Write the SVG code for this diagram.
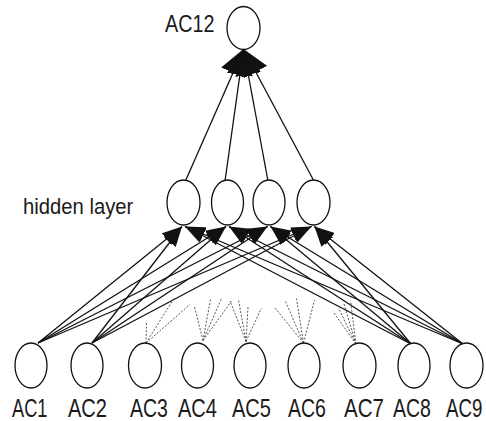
<svg xmlns="http://www.w3.org/2000/svg" width="486" height="421" viewBox="0 0 486 421">
  <style>
    .node { fill: #fff; stroke: #111; stroke-width: 1.3; }
    .lbl { font-family: "Liberation Sans", Arial, Helvetica, sans-serif; fill: #1a1a1a; }
    .in-lbl { font-size: 26px; }
    .edge { stroke: #111; stroke-width: 1.3; fill: none; }
    .hint { stroke: #444; stroke-width: 0.9; stroke-dasharray: 2 1.6; fill: none; }
  </style>
  <defs>
    <marker id="tri" viewBox="0 0 20 15" refX="20" refY="7.5" markerWidth="20" markerHeight="15" markerUnits="userSpaceOnUse" orient="auto">
      <path d="M0,0 L20,7.5 L0,15 z" fill="#111"/>
    </marker>
    <marker id="tri-lg" viewBox="0 0 26 26" refX="26" refY="13" markerWidth="26" markerHeight="26" markerUnits="userSpaceOnUse" orient="auto">
      <path d="M0,0 L26,13 L0,26 z" fill="#111"/>
    </marker>
  </defs>

  <!-- connectors -->
  <g id="connectors">
    <!-- hidden layer to output -->
    <line class="edge" x1="185" y1="182" x2="243.5" y2="49" marker-end="url(#tri-lg)"/>
    <line class="edge" x1="225" y1="181" x2="243.5" y2="49" marker-end="url(#tri-lg)"/>
    <line class="edge" x1="268" y1="181" x2="243.5" y2="49" marker-end="url(#tri-lg)"/>
    <line class="edge" x1="315" y1="183" x2="243.5" y2="49" marker-end="url(#tri-lg)"/>

    <!-- AC1 to hidden -->
    <line class="edge" x1="38" y1="343" x2="182" y2="226.5" marker-end="url(#tri)"/>
    <line class="edge" x1="38" y1="343" x2="226" y2="226.5" marker-end="url(#tri)"/>
    <line class="edge" x1="38" y1="343" x2="267.5" y2="226.5" marker-end="url(#tri)"/>
    <line class="edge" x1="38" y1="343" x2="311.5" y2="226.5" marker-end="url(#tri)"/>
    <!-- AC2 to hidden -->
    <line class="edge" x1="92" y1="343" x2="182" y2="226.5" marker-end="url(#tri)"/>
    <line class="edge" x1="92" y1="343" x2="226" y2="226.5" marker-end="url(#tri)"/>
    <line class="edge" x1="92" y1="343" x2="267.5" y2="226.5" marker-end="url(#tri)"/>
    <line class="edge" x1="92" y1="343" x2="311.5" y2="226.5" marker-end="url(#tri)"/>
    <!-- AC8 to hidden -->
    <line class="edge" x1="411" y1="344" x2="185" y2="226.5" marker-end="url(#tri)"/>
    <line class="edge" x1="411" y1="344" x2="229" y2="226.5" marker-end="url(#tri)"/>
    <line class="edge" x1="411" y1="344" x2="270.5" y2="226.5" marker-end="url(#tri)"/>
    <line class="edge" x1="411" y1="344" x2="314.5" y2="226.5" marker-end="url(#tri)"/>
    <!-- AC9 to hidden -->
    <line class="edge" x1="463" y1="344" x2="185" y2="226.5" marker-end="url(#tri)"/>
    <line class="edge" x1="463" y1="344" x2="229" y2="226.5" marker-end="url(#tri)"/>
    <line class="edge" x1="463" y1="344" x2="270.5" y2="226.5" marker-end="url(#tri)"/>
    <line class="edge" x1="463" y1="344" x2="314.5" y2="226.5" marker-end="url(#tri)"/>

    <!-- short dashed stubs from AC3..AC7 -->
    <line class="hint" x1="146" y1="343" x2="146.5" y2="323"/>
    <line class="hint" x1="146" y1="343" x2="174" y2="298.5"/>
    <line class="hint" x1="146" y1="343" x2="190" y2="304.5"/>

    <line class="hint" x1="203" y1="340.5" x2="194.5" y2="307"/>
    <line class="hint" x1="203" y1="340.5" x2="210.5" y2="299.5"/>
    <line class="hint" x1="203" y1="340.5" x2="221.5" y2="298.5"/>
    <line class="hint" x1="203" y1="340.5" x2="231.5" y2="301"/>

    <line class="hint" x1="246" y1="341.5" x2="230" y2="301"/>
    <line class="hint" x1="246" y1="341.5" x2="238.5" y2="300"/>
    <line class="hint" x1="246" y1="341.5" x2="248" y2="307"/>
    <line class="hint" x1="246" y1="341.5" x2="261.5" y2="308"/>

    <line class="hint" x1="303.5" y1="343" x2="275" y2="308"/>
    <line class="hint" x1="303.5" y1="343" x2="285.5" y2="301.5"/>
    <line class="hint" x1="303.5" y1="343" x2="296.5" y2="298.5"/>
    <line class="hint" x1="303.5" y1="343" x2="314.5" y2="300"/>

    <line class="hint" x1="356" y1="344" x2="333" y2="311.5"/>
    <line class="hint" x1="356" y1="344" x2="338.5" y2="308"/>
    <line class="hint" x1="356" y1="344" x2="344" y2="304"/>
    <line class="hint" x1="356" y1="344" x2="350.5" y2="300.5"/>
  </g>

  <!-- output node -->
  <g id="AC12">
    <ellipse class="node" cx="243.5" cy="28" rx="16.5" ry="21.5"/>
    <text class="lbl" font-size="23" transform="translate(165,32) scale(0.86,1)">AC12</text>
  </g>

  <!-- hidden layer -->
  <g id="hidden-label">
    <text class="lbl" font-size="22.5" transform="translate(23,213.5) scale(0.9,1)">hidden layer</text>
  </g>
  <g id="H1"><ellipse class="node" cx="183.5" cy="202.5" rx="16.5" ry="22.5"/></g>
  <g id="H2"><ellipse class="node" cx="227.5" cy="202.5" rx="16" ry="22.5"/></g>
  <g id="H3"><ellipse class="node" cx="269" cy="202.5" rx="16" ry="22.5"/></g>
  <g id="H4"><ellipse class="node" cx="313.5" cy="202.5" rx="16.5" ry="22.5"/></g>

  <!-- input layer (labels are narrow, condensed type) -->
  <g id="AC1">
    <ellipse class="node" cx="31" cy="365.5" rx="16" ry="22.5"/>
    <text class="lbl in-lbl" transform="translate(12,416.5) scale(0.70,1)">AC1</text>
  </g>
  <g id="AC2">
    <ellipse class="node" cx="87" cy="365.5" rx="16" ry="22.5"/>
    <text class="lbl in-lbl" transform="translate(68,416.5) scale(0.77,1)">AC2</text>
  </g>
  <g id="AC3">
    <ellipse class="node" cx="145" cy="365.5" rx="16.5" ry="22.5"/>
    <text class="lbl in-lbl" transform="translate(130,416.5) scale(0.75,1)">AC3</text>
  </g>
  <g id="AC4">
    <ellipse class="node" cx="197.5" cy="365.5" rx="16" ry="22.5"/>
    <text class="lbl in-lbl" transform="translate(178,416.5) scale(0.77,1)">AC4</text>
  </g>
  <g id="AC5">
    <ellipse class="node" cx="250" cy="365.5" rx="16" ry="22.5"/>
    <text class="lbl in-lbl" transform="translate(232,416.5) scale(0.77,1)">AC5</text>
  </g>
  <g id="AC6">
    <ellipse class="node" cx="304" cy="365.5" rx="16" ry="22.5"/>
    <text class="lbl in-lbl" transform="translate(288,416.5) scale(0.75,1)">AC6</text>
  </g>
  <g id="AC7">
    <ellipse class="node" cx="359.5" cy="365.5" rx="16.5" ry="22.5"/>
    <text class="lbl in-lbl" transform="translate(344,416.5) scale(0.79,1)">AC7</text>
  </g>
  <g id="AC8">
    <ellipse class="node" cx="414" cy="365.5" rx="16" ry="22.5"/>
    <text class="lbl in-lbl" transform="translate(393,416.5) scale(0.75,1)">AC8</text>
  </g>
  <g id="AC9">
    <ellipse class="node" cx="466.5" cy="365.5" rx="16.5" ry="22.5"/>
    <text class="lbl in-lbl" transform="translate(446,416.5) scale(0.72,1)">AC9</text>
  </g>
</svg>
